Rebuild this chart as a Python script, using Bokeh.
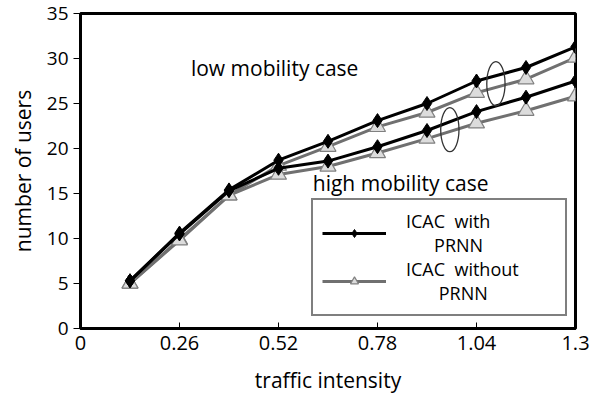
from bokeh.plotting import figure
from bokeh.models import (ColumnDataSource, Legend, LegendItem, FixedTicker, Label, Range1d)
from bokeh.embed import file_html
from bokeh.resources import INLINE

# ---- data ----
traffic = [0.13, 0.26, 0.39, 0.52, 0.65, 0.78, 0.91, 1.04, 1.17, 1.3]
low_with = [5.3, 10.6, 15.4, 18.7, 20.8, 23.1, 25.0, 27.5, 29.0, 31.3]
low_without = [5.0, 9.9, 14.8, 18.1, 20.2, 22.4, 24.0, 26.2, 27.7, 30.1]
high_with = [5.3, 10.5, 15.3, 17.8, 18.6, 20.2, 22.0, 24.1, 25.7, 27.5]
high_without = [5.0, 9.8, 14.8, 17.1, 18.0, 19.5, 21.1, 22.8, 24.2, 25.8]
x_ticks = [0, 0.26, 0.52, 0.78, 1.04, 1.3]
y_ticks = [0, 5, 10, 15, 20, 25, 30, 35]
ellipse_x = [1.091, 0.970]
ellipse_y = [27.2, 22.1]
ellipse_w = [0.048, 0.048]
ellipse_h = [4.9, 4.9]

FONT = "Open Sans"

p = figure(width=608, height=399, output_backend="svg", toolbar_location=None,
           x_range=Range1d(0, 1.3), y_range=Range1d(0, 35),
           min_border_left=80, min_border_right=33, min_border_top=13, min_border_bottom=71)
p.grid.visible = False
p.background_fill_color = "white"
p.border_fill_color = "white"
p.outline_line_color = "black"
p.outline_line_width = 3

for ax in (p.xaxis[0], p.yaxis[0]):
    ax.axis_line_width = 3
    ax.axis_line_color = "black"
    ax.major_label_text_font = FONT
    ax.major_label_text_font_size = "20px"
    ax.major_label_text_color = "black"
    ax.axis_label_text_font = FONT
    ax.axis_label_text_font_size = "21px"
    ax.axis_label_text_font_style = "normal"
    ax.axis_label_text_color = "black"
    ax.minor_tick_line_color = None
    ax.major_tick_line_color = "black"
    ax.major_tick_line_width = 1

p.yaxis.major_label_text_font_size = "19px"

p.xaxis.ticker = FixedTicker(ticks=x_ticks)
p.xaxis.major_tick_in = 6
p.xaxis.major_tick_out = 0
p.xaxis.major_label_standoff = 7
p.xaxis.axis_label = "traffic intensity"
p.xaxis.axis_label_standoff = 13

p.yaxis.ticker = FixedTicker(ticks=y_ticks)
p.yaxis.major_tick_in = 0
p.yaxis.major_tick_out = 7
p.yaxis.major_label_standoff = 5
p.yaxis.axis_label = "number of users"
p.yaxis.axis_label_standoff = 7

src = ColumnDataSource(dict(x=traffic, lw=low_with, lwo=low_without, hw=high_with, hwo=high_without))

GRAY = "#707070"
r_gl1 = p.line("x", "lwo", source=src, line_color=GRAY, line_width=3)
r_gl2 = p.line("x", "hwo", source=src, line_color=GRAY, line_width=3)
r_gm1 = p.scatter("x", "lwo", source=src, marker="triangle", size=16, fill_color="#dcdcdc",
                  line_color="#808080", line_width=1.2)
r_gm2 = p.scatter("x", "hwo", source=src, marker="triangle", size=16, fill_color="#dcdcdc",
                  line_color="#808080", line_width=1.2)
r_bl1 = p.line("x", "lw", source=src, line_color="black", line_width=3)
r_bl2 = p.line("x", "hw", source=src, line_color="black", line_width=3)
r_bm1 = p.scatter("x", "lw", source=src, marker="diamond", size=14, fill_color="black",
                  line_color="black")
r_bm2 = p.scatter("x", "hw", source=src, marker="diamond", size=14, fill_color="black",
                  line_color="black")

p.ellipse(x=ellipse_x, y=ellipse_y, width=ellipse_w, height=ellipse_h,
          fill_color=None, line_color="#333333", line_width=1.3)

p.add_layout(Label(x=0.29, y=28.9, text="low mobility case", text_font=FONT,
                   text_font_size="21px", text_baseline="middle", text_color="black"))
p.add_layout(Label(x=0.61, y=16.2, text="high mobility case", text_font=FONT,
                   text_font_size="21px", text_baseline="middle", text_color="black"))

legend = Legend(items=[
    LegendItem(label="ICAC  with\n      PRNN", renderers=[r_bl1, r_bm1]),
    LegendItem(label="ICAC  without\n       PRNN", renderers=[r_gl1, r_gm1]),
], location=(231, 12))
legend.label_text_font = FONT
legend.label_text_font_size = "18px"
legend.label_text_color = "black"
legend.label_text_line_height = 1.25
legend.glyph_width = 64
legend.border_line_color = "black"
legend.border_line_width = 2
legend.margin = 0
legend.padding = 9
legend.spacing = 0
legend.label_standoff = 20
legend.label_width = 150
p.add_layout(legend)

open("out.html", "w").write(file_html(p, INLINE))
